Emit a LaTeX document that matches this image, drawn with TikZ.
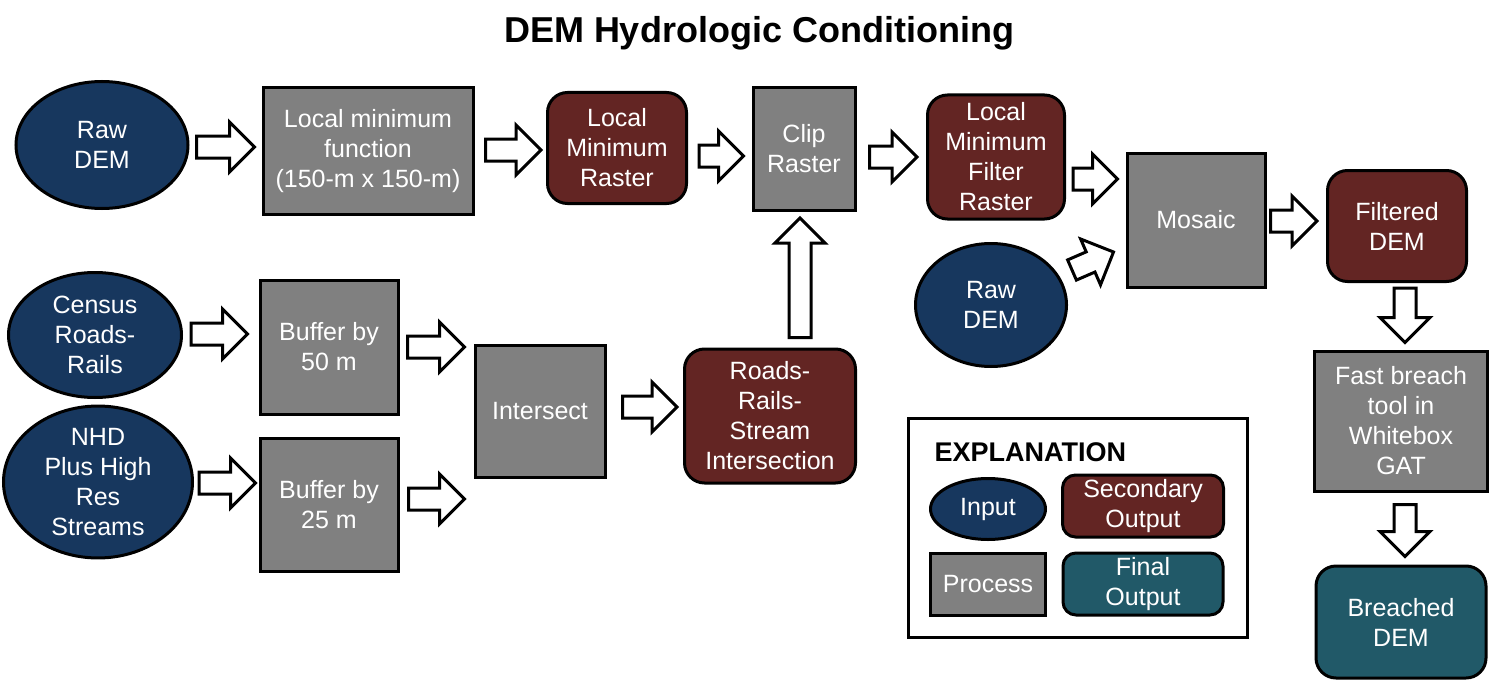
\documentclass[tikz,border=0pt]{standalone}
\usepackage{fontspec}
\setmainfont{Liberation Sans}
\usetikzlibrary{shapes.geometric,calc}
\definecolor{cinput}{HTML}{17375E}
\definecolor{csec}{HTML}{632523}
\definecolor{cproc}{HTML}{808080}
\definecolor{cfinal}{HTML}{215968}
\tikzset{
  base/.style={draw=black, line width=3pt, text=white, align=center, inner sep=0pt,
    font=\fontsize{25}{30}\selectfont},
  inputnode/.style={base, ellipse, fill=cinput},
  procnode/.style={base, rectangle, fill=cproc},
  secnode/.style={base, rectangle, rounded corners=20pt, fill=csec},
  finalnode/.style={base, rectangle, rounded corners=20pt, fill=cfinal},
  blockarrow/.style={draw=black, fill=white, line width=3pt, line join=miter},
}
\newcommand{\barrow}[2]{%
  \coordinate (bS) at #1;
  \coordinate (bE) at #2;
  \coordinate (bH) at ($(bE)!25pt!(bS)$);
  \draw[blockarrow] ($(bS)!11pt!90:(bE)$) -- ($(bH)!11pt!90:(bE)$) -- ($(bH)!25pt!90:(bE)$)
    -- (bE) -- ($(bH)!25pt!-90:(bE)$) -- ($(bH)!11pt!-90:(bE)$) -- ($(bS)!11pt!-90:(bE)$) -- cycle;}
\begin{document}
\begin{tikzpicture}[x=1pt,y=-1pt]
\useasboundingbox (0,0) rectangle (1490,682);
\node[font=\bfseries\fontsize{36}{43}\selectfont] (title) at (759,33) {DEM Hydrologic Conditioning};

\node[inputnode, minimum width=172pt, minimum height=127pt] (raw1) at (102,145) {Raw\\DEM};
\node[procnode, minimum width=210pt, minimum height=127pt] (lmf) at (368,151) {Local minimum\\function\\(150-m x 150-m)};
\node[secnode, minimum width=139pt, minimum height=111pt] (lmr) at (617,148) {Local\\Minimum\\Raster};
\node[procnode, minimum width=102pt, minimum height=123pt] (clip) at (804,149) {Clip\\Raster};
\node[secnode, minimum width=137pt, minimum height=124pt] (lmfr) at (996,157) {Local\\Minimum\\Filter\\Raster};
\node[procnode, minimum width=138pt, minimum height=134pt] (mosaic) at (1196,220) {Mosaic};
\node[secnode, minimum width=139pt, minimum height=111pt] (filt) at (1397,226) {Filtered\\DEM};
\node[inputnode, minimum width=151pt, minimum height=123pt] (raw2) at (991,305) {Raw\\DEM};
\node[inputnode, minimum width=173pt, minimum height=125pt] (census) at (95,335) {Census\\Roads-\\Rails};
\node[inputnode, minimum width=189pt, minimum height=127pt] (nhd) at (98,482) {NHD\\Plus High\\Res\\Streams};
\node[procnode, minimum width=138pt, minimum height=134pt] (buf50) at (329,347) {Buffer by\\50 m};
\node[procnode, minimum width=138pt, minimum height=133pt] (buf25) at (329,505) {Buffer by\\25 m};
\node[procnode, minimum width=130pt, minimum height=132pt] (intersect) at (540,411) {Intersect};
\node[secnode, minimum width=171pt, minimum height=134pt] (roads) at (770,416) {Roads-\\Rails-\\Stream\\Intersection};
\node[procnode, minimum width=173pt, minimum height=140pt] (fast) at (1401,421) {Fast breach\\tool in\\Whitebox\\GAT};
\node[finalnode, minimum width=170pt, minimum height=112pt] (breached) at (1401,622) {Breached\\DEM};

% legend
\node[draw=black, line width=3pt, minimum width=339pt, minimum height=219pt, inner sep=0pt] (legend) at (1078,528) {};
\node[anchor=west, font=\bfseries\fontsize{27}{32}\selectfont] (expl) at (931,452) {EXPLANATION};
\node[inputnode, minimum width=115pt, minimum height=61pt] (linput) at (988,509) {Input};
\node[secnode, rounded corners=13pt, minimum width=161pt, minimum height=62pt] (lsec) at (1143,506) {Secondary\\Output};
\node[procnode, minimum width=115pt, minimum height=62pt] (lproc) at (988,584) {Process};
\node[finalnode, rounded corners=13pt, minimum width=160pt, minimum height=62pt] (lfinal) at (1143,584) {Final\\Output};

% block arrows
\barrow{($(raw1.east)+(7,2)$)}{($(lmf.west)+(-7,-4)$)}
\barrow{($(lmf.east)+(11,-1)$)}{($(lmr.west)+(-5,2)$)}
\barrow{($(lmr.east)+(11,8)$)}{($(clip.west)+(-8,7)$)}
\barrow{($(clip.east)+(13,8)$)}{($(lmfr.west)+(-9,0)$)}
\barrow{($(lmfr.east)+(7,22)$)}{($(mosaic.west)+(-8,-41)$)}
\barrow{($(raw2.east)+(4,-35)$)}{($(mosaic.west)+(-12,32)$)}
\barrow{($(mosaic.east)+(4,1)$)}{($(filt.west)+(-9,-5)$)}
\barrow{($(filt.south)+(8,5)$)}{($(fast.north)+(4,-7)$)}
\barrow{($(fast.south)+(4,12)$)}{($(breached.north)+(4,-8)$)}
\barrow{($(census.east)+(8,-1)$)}{($(buf50.west)+(-11,-13)$)}
\barrow{($(nhd.east)+(5,1)$)}{($(buf25.west)+(-3,-22)$)}
\barrow{($(buf50.east)+(8,0)$)}{($(intersect.west)+(-9,-64)$)}
\barrow{($(buf25.east)+(9,-6)$)}{($(intersect.west)+(-9,88)$)}
\barrow{($(intersect.east)+(16,-4)$)}{($(roads.west)+(-6,-9)$)}
\barrow{($(roads.north)+(30,-10)$)}{($(clip.south)+(-4,6)$)}
\end{tikzpicture}
\end{document}
